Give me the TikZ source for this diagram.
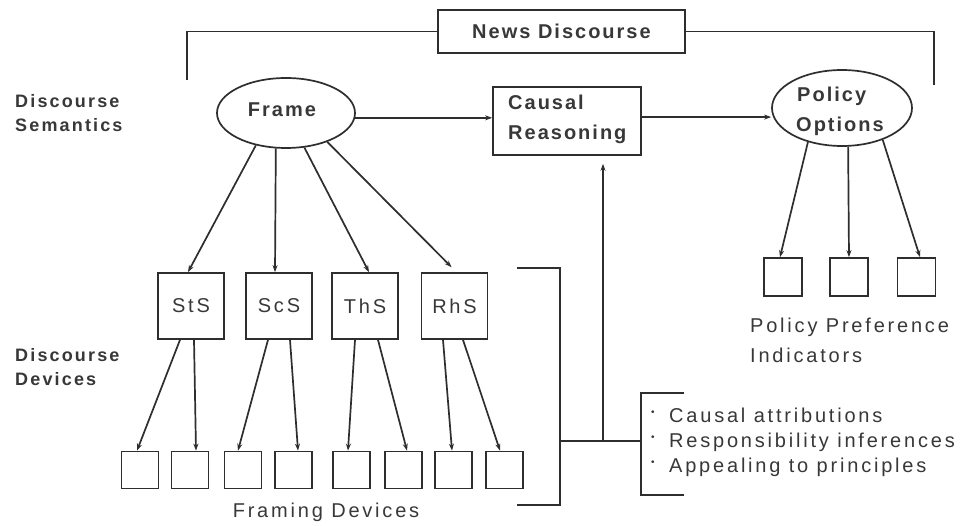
\documentclass[tikz,border=0pt]{standalone}
\usepackage{fontspec}
\setmainfont{Liberation Sans}
\newfontfamily\regf[LetterSpace=14]{Liberation Sans}
\newfontfamily\bldf[LetterSpace=10]{Liberation Sans}
\newfontfamily\lblf[LetterSpace=12]{Liberation Sans}
\usetikzlibrary{arrows.meta,shapes.geometric}
\definecolor{ink}{HTML}{2E2E2E}
\definecolor{txt}{HTML}{383838}
\newcommand{\bulletdot}{\makebox[18pt][l]{\fontsize{10}{10}\selectfont\raisebox{7pt}{•}}}
\tikzset{
  ln/.style={draw=ink, line width=1.7pt},
  arr/.style={ln, -{Stealth[length=7pt,width=5pt]}},
  regtext/.style={font=\regf\fontsize{20}{24}\selectfont, text=txt},
  boldtext/.style={font=\bldf\bfseries\fontsize{20}{24}\selectfont, text=txt},
  sidetext/.style={font=\lblf\bfseries\fontsize{18}{22}\selectfont, text=txt},
  lbl/.style={anchor=base west, inner sep=0pt},
  bigbox/.style={rectangle, ln, minimum width=66pt, minimum height=66pt, inner sep=0pt, regtext},
  smallbox/.style={rectangle, ln, minimum width=37pt, minimum height=37pt, inner sep=0pt},
  oval/.style={ellipse, ln, inner sep=0pt},
  rbox/.style={rectangle, ln, inner sep=0pt}
}
\begin{document}
\begin{tikzpicture}[x=1pt,y=-1pt]
\fill[white] (0,0) rectangle (975,526);
\useasboundingbox (0,0) rectangle (975,526);

% top bracket
\node[rbox, boldtext, minimum width=247pt, minimum height=43pt] (news) at (561.5,31.5) {News Discourse};
\coordinate (ndL) at (187,80);
\coordinate (ndR) at (934,85);
\draw[ln] (news.west) -| (ndL);
\draw[ln] (news.east) -| (ndR);

% side labels
\node[lbl, sidetext] (ds1) at (15,108) {Discourse};
\node[lbl, sidetext] (ds2) at (15,132) {Semantics};
\node[lbl, sidetext] (dd1) at (15,362) {Discourse};
\node[lbl, sidetext] (dd2) at (15,386) {Devices};

% frame
\node[oval, minimum width=138pt, minimum height=70pt] (frame) at (286,113) {};
\node[anchor=base, inner sep=0pt, boldtext] (frametxt) at (282,117) {Frame};

% causal reasoning
\node[rbox, minimum width=148pt, minimum height=68pt] (cr) at (567,121) {};
\node[lbl, boldtext] (cr1) at (508,110) {Causal};
\node[lbl, boldtext] (cr2) at (508,140) {Reasoning};

% policy options
\node[oval, minimum width=140pt, minimum height=76pt] (po) at (842,108) {};
\node[lbl, boldtext] (po1) at (797,102) {Policy};
\node[lbl, boldtext] (po2) at (796,132) {Options};

\draw[arr] (frame.-4) -- (frame.-4 -| cr.west);
\draw[arr] (cr.3) -- (cr.3 -| po.west);

% discourse devices
\node[bigbox] (sts) at (191,306) {StS};
\node[bigbox] (scs) at (279,306) {ScS};
\node[bigbox] (ths) at (365,306) {ThS};
\node[bigbox] (rhs) at (454.5,306) {RhS};

\draw[arr] (frame.-133) -- ([xshift=-3pt]sts.north);
\draw[arr] (frame.-106) -- ([xshift=-4pt]scs.north);
\draw[arr] (frame.-62) -- ([xshift=4pt]ths.north);
\draw[arr, shorten >=7pt] (frame.-35) -- ([xshift=2pt]rhs.north);

% framing devices
\node[smallbox] (f1) at (140,470) {};
\node[smallbox] (f2) at (190,470) {};
\node[smallbox] (f3) at (243,470) {};
\node[smallbox] (f4) at (293.5,470) {};
\node[smallbox] (f5) at (351.5,470) {};
\node[smallbox] (f6) at (403.5,470) {};
\node[smallbox] (f7) at (453.5,470) {};
\node[smallbox] (f8) at (504.5,470) {};

\draw[arr] ([xshift=-11pt]sts.south) -- ([xshift=-3pt]f1.north);
\draw[arr] ([xshift=3pt]sts.south) -- ([xshift=6pt]f2.north);
\draw[arr] ([xshift=-11pt]scs.south) -- ([xshift=-5pt]f3.north);
\draw[arr] ([xshift=11pt]scs.south) -- ([xshift=4.5pt]f4.north);
\draw[arr] ([xshift=-10pt]ths.south) -- ([xshift=-3.5pt]f5.north);
\draw[arr] ([xshift=13pt]ths.south) -- ([xshift=3.5pt]f6.north);
\draw[arr] ([xshift=-11.5pt]rhs.south) -- ([xshift=-1.5pt]f7.north);
\draw[arr] ([xshift=8.5pt]rhs.south) -- ([xshift=-4.5pt]f8.north);

\node[anchor=base, inner sep=0pt, regtext] (fdtxt) at (326,517) {Framing Devices};

% big bracket and reasoning connector
\coordinate (bbT) at (517,268);
\coordinate (bbB) at (517,505);
\draw[ln] (bbT) -- ++(43,0) |- (bbB);
\coordinate (jL) at (560,441);
\coordinate (jn) at (603,441);
\coordinate (sbM) at (641,441);
\draw[ln] (jL) -- (sbM);
\draw[arr, shorten >=8pt] (jn) -- (jn |- cr.south);
\coordinate (sbT) at (684,393);
\coordinate (sbB) at (684,495);
\draw[ln] (sbT) -- ++(-43,0) |- (sbB);

\node[lbl, regtext] (b1) at (651,423) {\bulletdot Causal attributions};
\node[lbl, regtext] (b2) at (651,448) {\bulletdot Responsibility inferences};
\node[lbl, regtext] (b3) at (651,473) {\bulletdot Appealing to principles};

% policy preference indicators
\node[smallbox, minimum width=38pt, minimum height=38pt] (p1) at (783,277) {};
\node[smallbox, minimum width=38pt, minimum height=38pt] (p2) at (849,277) {};
\node[smallbox, minimum width=38pt, minimum height=38pt] (p3) at (916.5,277) {};
\draw[arr] (po.-135) -- ([xshift=-3pt]p1.north);
\draw[arr] (po.-81) -- (p2.north);
\draw[arr] (po.-38) -- ([xshift=3.5pt]p3.north);

\node[lbl, regtext] (pp1) at (750,333) {Policy Preference};
\node[lbl, regtext] (pp2) at (750,363) {Indicators};
\end{tikzpicture}
\end{document}
